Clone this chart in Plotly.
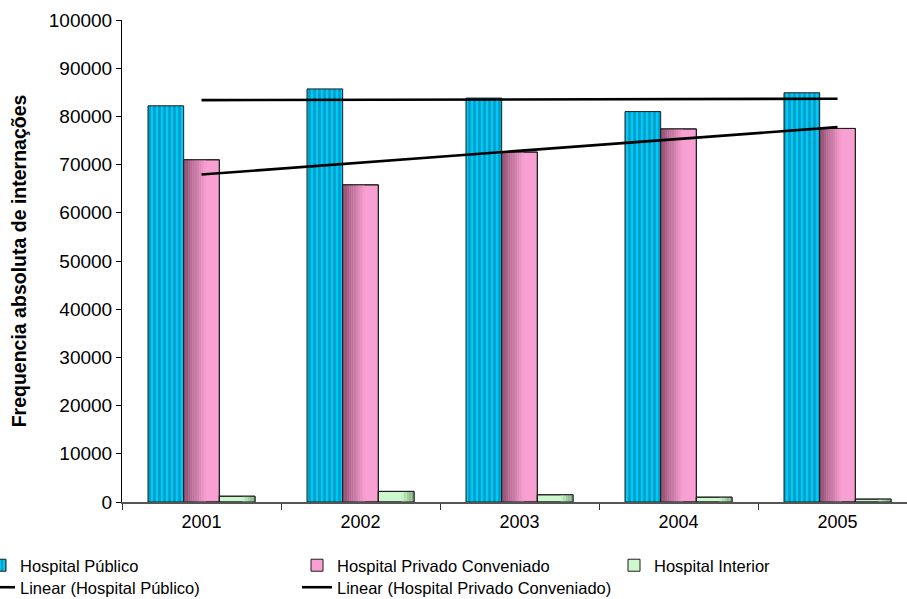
import numpy as np
import plotly.graph_objects as go

# Internações por tipo de hospital, 2001-2005
years = ["2001", "2002", "2003", "2004", "2005"]
hospital_publico = [82200, 85700, 83800, 81000, 84900]
hospital_privado = [71000, 65800, 72600, 77400, 77500]
hospital_interior = [1200, 2200, 1500, 1000, 600]
y_tick_values = list(range(0, 100001, 10000))

FONT = "Liberation Sans, Arial, sans-serif"
W_PLOT, H_PLOT = 907, 599
M_L, M_R, M_T, M_B = 122, 0, 20, 97

BARGAP = 0.327
bw = (1 - BARGAP) / 3            # width of one bar in category units
off_pub, off_priv, off_int = -1.5 * bw, -0.5 * bw, 0.5 * bw
OUTLINE = "#1e1e1e"


def hex_mix(c1, c2, t):
    a = [int(c1[i:i + 2], 16) for i in (1, 3, 5)]
    b = [int(c2[i:i + 2], 16) for i in (1, 3, 5)]
    m = [round(a[k] + (b[k] - a[k]) * t) for k in range(3)]
    return "#%02x%02x%02x" % tuple(m)


def shading(values, offset, c_edge, c_base, frac, n, side):
    """Thin bar strips that darken one edge of a bar series."""
    out = []
    strip = frac * bw / n
    for i in range(n):
        t = (i + 0.5) / n
        if side == "left":
            o = offset + i * strip
        else:
            o = offset + bw - (i + 1) * strip
        out.append(go.Bar(x=years, y=values, offset=o, width=strip,
                          marker=dict(color=hex_mix(c_edge, c_base, t),
                                      line=dict(width=0)),
                          showlegend=False, hoverinfo="skip"))
    return out


fig = go.Figure()

# Hospital Público: cyan with dark streak texture
fig.add_trace(go.Bar(
    name="Hospital Público", x=years, y=hospital_publico,
    offset=off_pub, width=bw, legend="legend", legendwidth=272,
    marker=dict(color="#00C8F8",
                line=dict(color=OUTLINE, width=1),
                pattern=dict(shape="|", fgcolor="#0A6F8E", bgcolor="#00C8F8",
                             size=5, solidity=0.5, fillmode="overlay"))))

# Hospital Privado Conveniado: pink, darker towards the left edge
PINK_BASE, PINK_EDGE = "#F9A0D2", "#8A4C6C"
fig.add_trace(go.Bar(
    name="Hospital Privado Conveniado", x=years, y=hospital_privado,
    offset=off_priv, width=bw, legend="legend", legendwidth=272,
    marker=dict(color=PINK_BASE, line=dict(color=OUTLINE, width=1))))
for tr in shading(hospital_privado, off_priv, PINK_EDGE, PINK_BASE, 0.62, 10, "left"):
    fig.add_trace(tr)

# Hospital Interior: pale green, darker towards the right edge
GREEN_BASE, GREEN_EDGE = "#CDF7CD", "#78A878"
fig.add_trace(go.Bar(
    name="Hospital Interior", x=years, y=hospital_interior,
    offset=off_int, width=bw, legend="legend", legendwidth=120,
    marker=dict(color=GREEN_BASE, line=dict(color=OUTLINE, width=1))))
for tr in shading(hospital_interior, off_int, GREEN_EDGE, GREEN_BASE, 0.35, 5, "right"):
    fig.add_trace(tr)

# crisp outlines over the shaded series
for vals, off in ((hospital_privado, off_priv), (hospital_interior, off_int)):
    fig.add_trace(go.Bar(x=years, y=vals, offset=off, width=bw,
                         marker=dict(color="rgba(0,0,0,0)",
                                     line=dict(color=OUTLINE, width=1)),
                         showlegend=False, hoverinfo="skip"))

# linear trend lines (least squares over the five years)
xi = np.arange(len(years))
for name, vals, lw in (("Linear (Hospital Público)", hospital_publico, 272),
                       ("Linear (Hospital Privado Conveniado)", hospital_privado, None)):
    slope, intercept = np.polyfit(xi, vals, 1)
    trend = slope * xi + intercept
    kw = dict(legendwidth=lw) if lw else {}
    fig.add_trace(go.Scatter(x=years, y=trend, mode="lines", name=name,
                             line=dict(color="black", width=2.6),
                             legend="legend2", **kw))

plot_w = W_PLOT - M_L - M_R
plot_h = H_PLOT - M_T - M_B


def px_to_paper_x(px):
    return (px - M_L) / plot_w


def px_to_paper_y(py):
    return (H_PLOT - M_B - py) / plot_h


legend_common = dict(orientation="h", xanchor="left", yanchor="top",
                     font=dict(family=FONT, size=16.5, color="black"),
                     bgcolor="rgba(0,0,0,0)", borderwidth=0, itemwidth=30,
                     traceorder="normal")

fig.update_layout(
    width=W_PLOT, height=H_PLOT,
    margin=dict(l=M_L, r=M_R, t=M_T, b=M_B, pad=0, autoexpand=False),
    paper_bgcolor="white", plot_bgcolor="white",
    barmode="overlay",
    font=dict(family=FONT, color="black"),
    legend=dict(x=px_to_paper_x(-20), y=px_to_paper_y(548), **legend_common),
    legend2=dict(x=px_to_paper_x(-20), y=px_to_paper_y(570), **legend_common),
    xaxis=dict(type="category", range=[-0.5, 4.437],
               tickson="boundaries", ticks="outside", ticklen=6,
               tickcolor="#333", showline=True, linecolor="#555", linewidth=1.5,
               showgrid=False, zeroline=False, ticklabelstandoff=3,
               tickfont=dict(family=FONT, size=18, color="black")),
    yaxis=dict(range=[0, 100000], tickvals=y_tick_values, tickformat="d",
               ticks="outside", ticklen=5, tickcolor="black",
               showline=True, linecolor="black", linewidth=1,
               showgrid=False, zeroline=False, automargin=False,
               tickfont=dict(family=FONT, size=19, color="black"),
               title=dict(text="<b>Frequencia absoluta de internações</b>",
                          font=dict(family=FONT, size=19.5, color="black"),
                          standoff=16)),
)

fig.write_html("out.html")
